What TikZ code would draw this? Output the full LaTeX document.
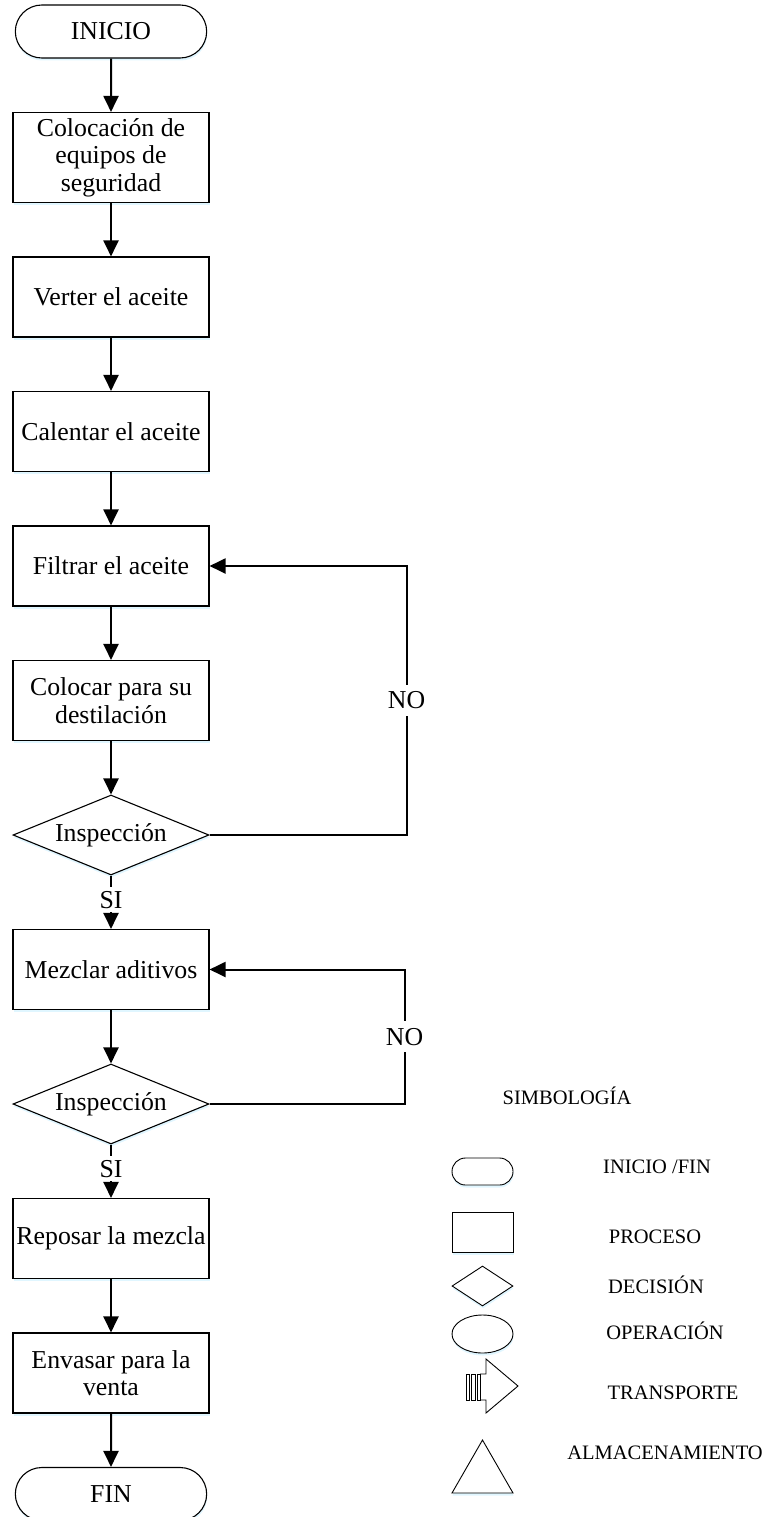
\documentclass[tikz,border=0pt]{standalone}
\usepackage{fontspec}
\setmainfont{Liberation Serif}
\usetikzlibrary{positioning,shapes.geometric,shapes.misc,arrows.meta,shadows}

\begin{document}
\begin{tikzpicture}[x=1pt,y=-1pt,node distance=53.4pt,
        every node/.style={font=\fontsize{25.8}{27.5}\selectfont},
        sombra/.style={drop shadow={shadow xshift=0.5pt,shadow yshift=-2.5pt,fill=blue!30!cyan!40,opacity=0.3}},
        terminal/.style={draw,fill=white,sombra,rounded rectangle,minimum width=198pt,minimum height=53pt,line width=1.1pt},
        proceso/.style={draw,fill=white,sombra,rectangle,minimum width=196pt,minimum height=80pt,inner sep=2pt,align=center,line width=1.1pt},
        decision/.style={draw,fill=white,sombra,diamond,aspect=2.45,minimum width=196pt,minimum height=80pt,inner sep=0pt,line width=1.1pt},
        flecha/.style={-{Triangle[width=15pt,length=16pt]},line width=2pt},
        etiqueta/.style={fill=white,inner sep=7pt},
        leyenda/.style={font=\fontsize{20.5}{24}\selectfont,text height=13.6pt,text depth=0pt},
        simbolo/.style={draw,fill=white,sombra,line width=0.9pt,inner sep=0pt}]
        \useasboundingbox (0,0) rectangle (771,1517);
        \node[terminal] (inicio) at (111,31.5) {INICIO};
        \node[proceso,below=of inicio,minimum height=90pt] (b1) {Colocación de\\equipos de\\seguridad};
        \node[proceso,below=of b1] (b2) {Verter el aceite};
        \node[proceso,below=of b2] (b3) {Calentar el aceite};
        \node[proceso,below=of b3] (b4) {Filtrar el aceite};
        \node[proceso,below=of b4] (b5) {Colocar para su\\destilación};
        \node[decision,below=of b5] (d1) {Inspección};
        \node[proceso,below=of d1] (b6) {Mezclar aditivos};
        \node[decision,below=of b6] (d2) {Inspección};
        \node[proceso,below=of d2] (b7) {Reposar la mezcla};
        \node[proceso,below=of b7] (b8) {Envasar para la\\venta};
        \node[terminal,below=of b8] (fin) {FIN};
        \draw[flecha] (inicio) -- (b1);
        \draw[flecha] (b1) -- (b2);
        \draw[flecha] (b2) -- (b3);
        \draw[flecha] (b3) -- (b4);
        \draw[flecha] (b4) -- (b5);
        \draw[flecha] (b5) -- (d1);
        \draw[flecha] (d1) -- node[etiqueta,inner sep=4pt,pos=0.45] (si1) {SI} (b6);
        \draw[flecha] (d1.east) -- ++(197,0) |- node[etiqueta,pos=0.25] (no1) {NO} (b4.east);
        \draw[flecha] (b6) -- (d2);
        \draw[flecha] (d2) -- node[etiqueta,inner sep=4pt,pos=0.45] (si2) {SI} (b7);
        \draw[flecha] (d2.east) -- ++(195,0) |- node[etiqueta,pos=0.25] (no2) {NO} (b6.east);
        \draw[flecha] (b7) -- (b8);
        \draw[flecha] (b8) -- (fin);
        \node[leyenda] (simbologia) at (567,1098) {SIMBOLOGÍA};
        \node[simbolo,rounded rectangle,minimum width=61pt,minimum height=27pt] (sterminal) at (482.5,1171.5) {};
        \node[leyenda] (lterminal) at (657,1167) {INICIO /FIN};
        \node[simbolo,rectangle,minimum width=61pt,minimum height=40pt] (sproceso) at (482.5,1232) {};
        \node[leyenda] (lproceso) at (655,1237) {PROCESO};
        \node[simbolo,diamond,aspect=1.5,minimum width=61pt,minimum height=40pt] (sdecision) at (482.5,1286) {};
        \node[leyenda] (ldecision) at (656,1287) {DECISIÓN};
        \node[simbolo,ellipse,minimum width=61pt,minimum height=38pt] (soperacion) at (482.5,1334) {};
        \node[leyenda] (loperacion) at (665,1333) {OPERACIÓN};
        \draw[line width=0.9pt,fill=white] (480,1374) -- (486,1374) -- (486,1359) -- (518,1386) -- (486,1413) -- (486,1400) -- (480,1400);
        \draw[line width=0.9pt] (466,1374) rectangle (469.3,1400);
        \draw[line width=0.9pt] (471.7,1374) rectangle (475,1400);
        \draw[line width=0.9pt] (477,1374) rectangle (480,1400);
        \node[leyenda] (ltransporte) at (673,1393) {TRANSPORTE};
        \draw[line width=0.9pt,fill=white,sombra] (482.5,1440) -- (513,1493) -- (452,1493) -- cycle;
        \node[leyenda] (lalmacen) at (665,1453) {ALMACENAMIENTO};
\end{tikzpicture}
\end{document}
